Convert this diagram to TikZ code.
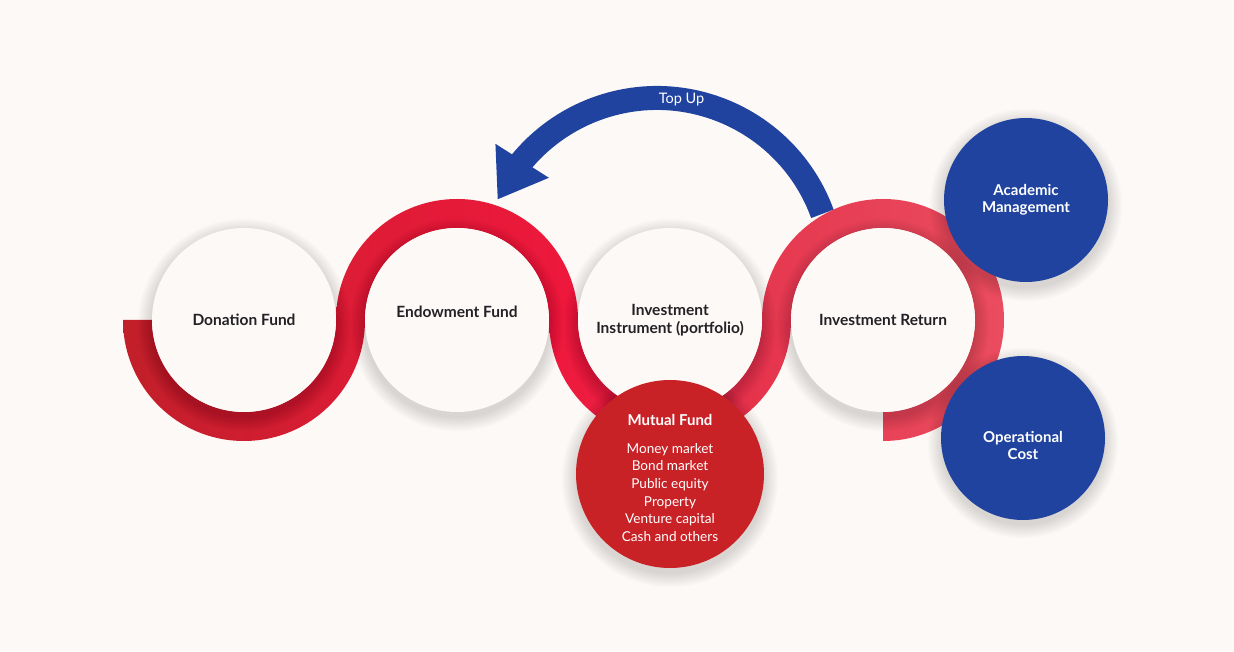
\documentclass[tikz,border=0pt]{standalone}
\usepackage{fontspec}
\setmainfont{Lato}
\usetikzlibrary{calc, arrows.meta, bending}

\definecolor{bgcol}{HTML}{FDF9F6}
\definecolor{inkcol}{HTML}{222226}
\definecolor{bluecol}{HTML}{2043A0}
\definecolor{mutualcol}{HTML}{C92226}
\definecolor{redA}{HTML}{C11F2A}
\definecolor{redB}{HTML}{DC1C35}
\definecolor{redC}{HTML}{EE183C}
\definecolor{redD}{HTML}{E5384F}
\definecolor{redE}{HTML}{EA4C60}

\pgfdeclarelayer{back}
\pgfdeclarelayer{shade}
\pgfsetlayers{back,shade,main}

\tikzset{
  disc/.style={circle, fill=bgcol, minimum size=184pt, inner sep=0pt, align=center, text=inkcol, font=\bfseries\fontsize{15.5}{17.5}\selectfont},
  bluedisc/.style={circle, fill=bluecol, minimum size=164pt, inner sep=0pt, align=center, text=white, font=\bfseries\fontsize{15}{17}\selectfont},
  reddisc/.style={circle, fill=mutualcol, minimum size=188pt, inner sep=0pt, align=center, text=white, font=\fontsize{13.6}{17.6}\selectfont},
  topup/.style={draw=bluecol, line width=24pt, -{Triangle[length=46pt, width=60pt]}},
  toptext/.style={text=white, font=\fontsize{14.5}{16}\selectfont},
}

\newcommand{\halo}[2]{%
  \foreach \k in {1,...,12}
    \fill[black, opacity=0.013] ($(#1.center)+(0,-5)$) circle ({#2+1.2*\k});
}

\begin{document}
\begin{tikzpicture}[x=1pt, y=1pt]
	\useasboundingbox (0,0) rectangle (1234,651);
	\node[disc] (donation) at (244,331) {Donation Fund};
	\node[disc] (endowment) at (457,331) {Endowment Fund\\[-1.5pt]};
	\node[disc] (instrument) at (670,331) {Investment\\Instrument (portfolio)};
	\node[disc] (return) at (883,331) {Investment Return};
	\node[reddisc] (mutual) at (670,177) {{}\\[1.4pt]{\bfseries\fontsize{15}{17.6}\selectfont Mutual Fund}\\[10pt]Money market\\Bond market\\Public equity\\Property\\Venture capital\\Cash and others};
	\node[bluedisc] (academic) at (1026,451) {Academic\\Management};
	\node[bluedisc] (opcost) at (1023,213) {{}\\[10pt]Operational\\Cost};
	\coordinate (pivot) at (657,377);
	\node[toptext] (topuplabel) at ($(pivot)+(82:176)$) {Top Up};
	\begin{pgfonlayer}{back}
		\fill[bgcol] (0,0) rectangle (1234,651);
		\draw[topup] ($(pivot)+(20:176)$) arc[start angle=20, end angle=155, radius=176];
		\shade[left color=redA, right color=redB] ($(donation.center)+(180:121)$) arc[start angle=180, end angle=360, radius=121] -- ($(donation.center)+(0:92)$) arc[start angle=360, end angle=180, radius=92] -- cycle;
		\shade[left color=redB, right color=redC] ($(endowment.center)+(180:121)$) arc[start angle=180, end angle=0, radius=121] -- ($(endowment.center)+(0:92)$) arc[start angle=0, end angle=180, radius=92] -- cycle;
		\shade[left color=redC, right color=redD] ($(instrument.center)+(180:121)$) arc[start angle=180, end angle=360, radius=121] -- ($(instrument.center)+(0:92)$) arc[start angle=360, end angle=180, radius=92] -- cycle;
		\shade[left color=redD, right color=redE] ($(return.center)+(180:121)$) arc[start angle=180, end angle=-90, radius=121] -- ($(return.center)+(-90:92)$) arc[start angle=-90, end angle=180, radius=92] -- cycle;
	\end{pgfonlayer}
	\begin{pgfonlayer}{shade}
		\foreach \n/\r in {donation/92, endowment/92, instrument/92, return/92, mutual/94, academic/82, opcost/81} {\halo{\n}{\r}}
	\end{pgfonlayer}
\end{tikzpicture}
\end{document}
